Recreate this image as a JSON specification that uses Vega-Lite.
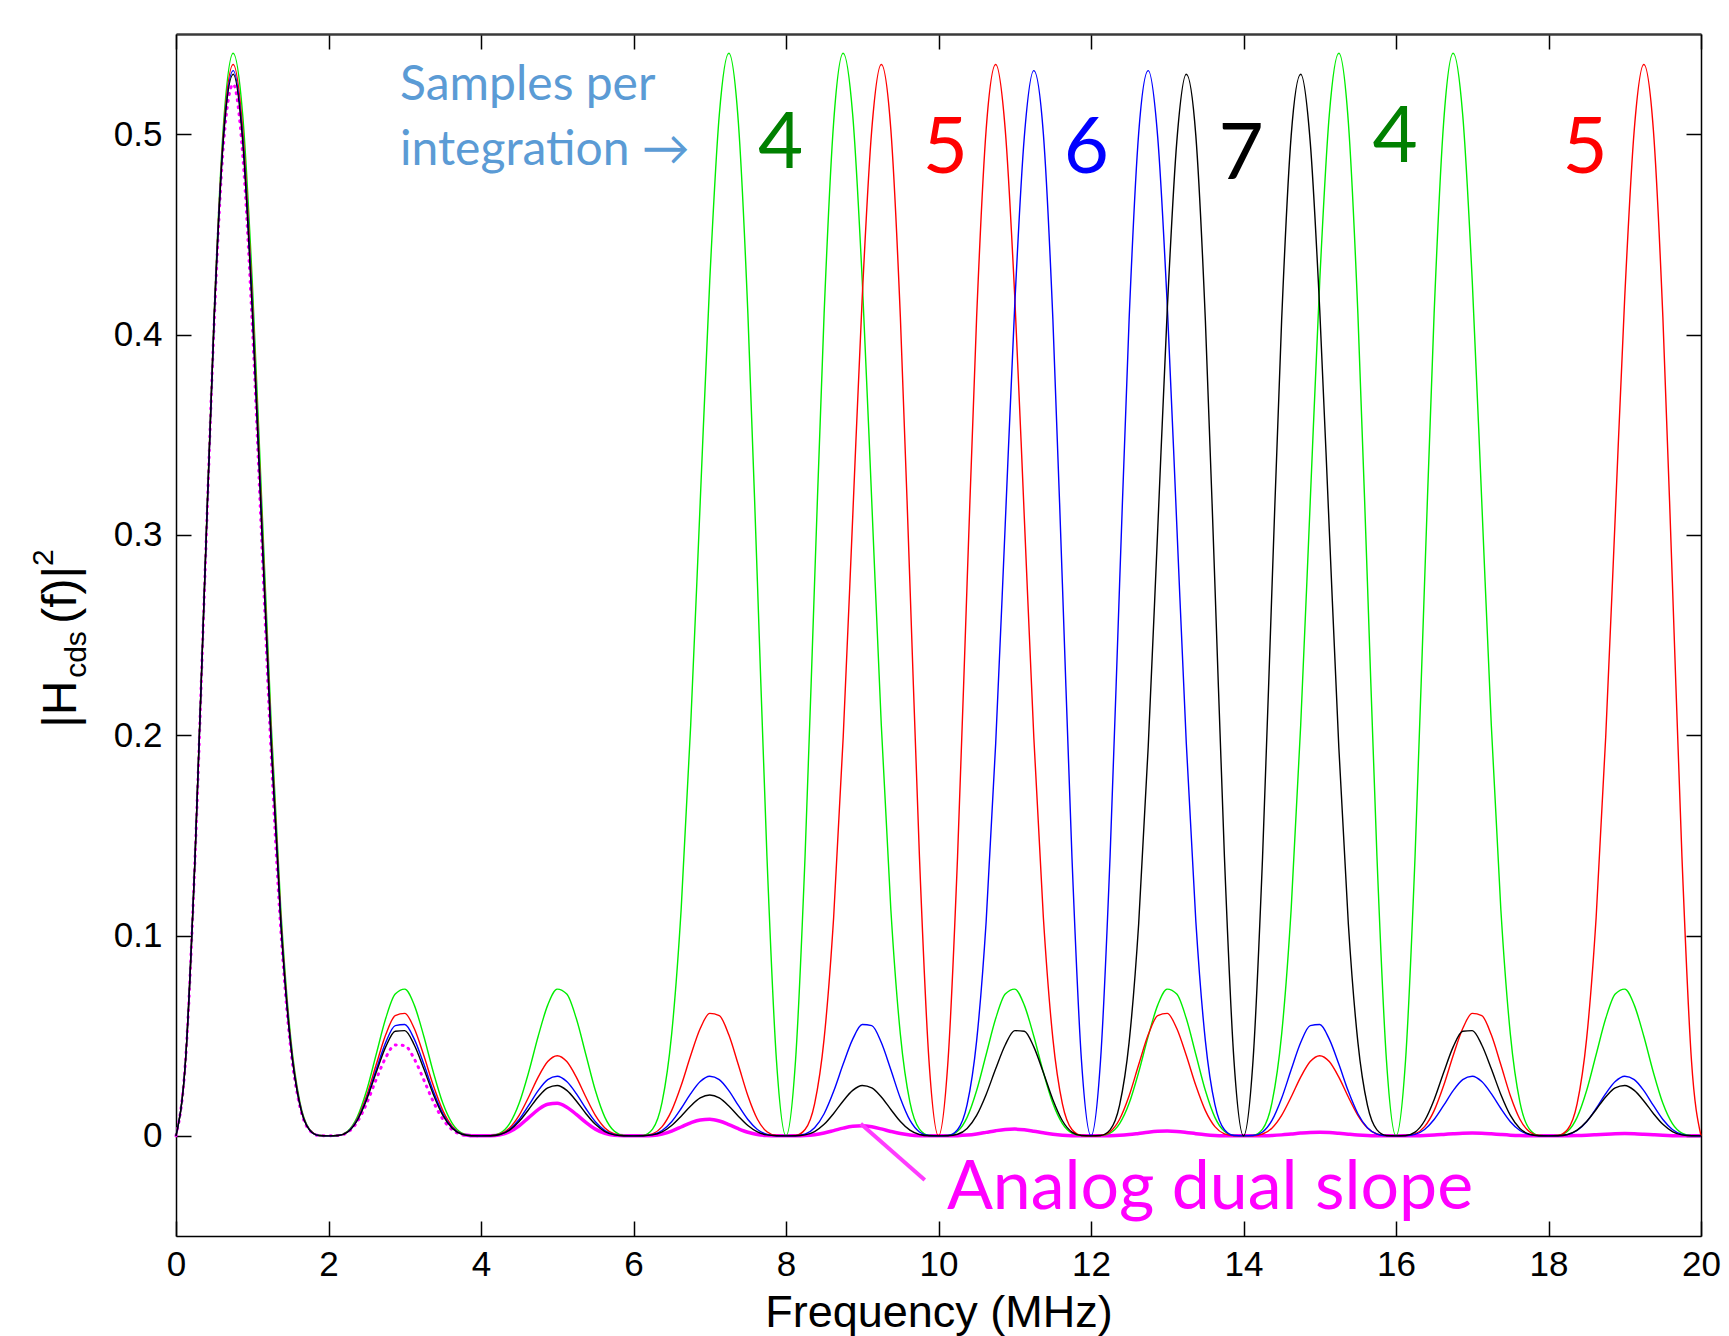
{
"$schema": "https://vega.github.io/schema/vega-lite/v6.json",
"width": 1525,
"height": 1202,
"autosize": {"type": "none"},
"padding": {"left": 176, "top": 34, "right": 28, "bottom": 100},
"background": "white",
"config": {"view": {"stroke": null}, "font": "Liberation Sans"},
"resolve": {"scale": {"color": "independent"}, "axis": {"x": "independent", "y": "independent"}},
"datasets": {
"curves": [
{"f":0,"N4":0,"N5":0,"N6":0,"N7":0,"Analog":0},
{"f":0.125,"N4":0.0376,"N5":0.03759,"N6":0.03759,"N7":0.03758,"Analog":0.03757},
{"f":0.25,"N4":0.13952,"N5":0.13936,"N6":0.13927,"N7":0.13922,"Analog":0.13907},
{"f":0.375,"N4":0.27657,"N5":0.27584,"N6":0.27545,"N7":0.27522,"Analog":0.27457},
{"f":0.5,"N4":0.41054,"N5":0.40864,"N6":0.40761,"N7":0.40699,"Analog":0.40529},
{"f":0.625,"N4":0.50597,"N5":0.50231,"N6":0.50034,"N7":0.49915,"Analog":0.49589},
{"f":0.75,"N4":0.54037,"N5":0.53475,"N6":0.53173,"N7":0.52991,"Analog":0.52493},
{"f":0.875,"N4":0.50957,"N5":0.50235,"N6":0.49848,"N7":0.49617,"Analog":0.48982},
{"f":1,"N4":0.42678,"N5":0.41889,"N6":0.41467,"N7":0.41216,"Analog":0.40529},
{"f":1.125,"N4":0.31637,"N5":0.30897,"N6":0.30503,"N7":0.30269,"Analog":0.29631},
{"f":1.25,"N4":0.20491,"N5":0.199,"N6":0.19587,"N7":0.19401,"Analog":0.18897},
{"f":1.375,"N4":0.11302,"N5":0.10907,"N6":0.107,"N7":0.10577,"Analog":0.10246},
{"f":1.5,"N4":0.05062,"N5":0.04852,"N6":0.04742,"N7":0.04677,"Analog":0.04503},
{"f":1.625,"N4":0.01678,"N5":0.01596,"N6":0.01554,"N7":0.01529,"Analog":0.01462},
{"f":1.75,"N4":0.00333,"N5":0.00314,"N6":0.00305,"N7":0.00299,"Analog":0.00284},
{"f":1.875,"N4":0.0002,"N5":0.00019,"N6":0.00018,"N7":0.00018,"Analog":0.00017},
{"f":2,"N4":0,"N5":0,"N6":0,"N7":0,"Analog":0},
{"f":2.125,"N4":0.00016,"N5":0.00015,"N6":0.00014,"N7":0.00014,"Analog":0.00013},
{"f":2.25,"N4":0.00224,"N5":0.00203,"N6":0.00193,"N7":0.00187,"Analog":0.00172},
{"f":2.375,"N4":0.00923,"N5":0.00827,"N6":0.0078,"N7":0.00753,"Analog":0.00685},
{"f":2.5,"N4":0.0226,"N5":0.02,"N6":0.01874,"N7":0.01803,"Analog":0.01621},
{"f":2.625,"N4":0.0406,"N5":0.03546,"N6":0.03299,"N7":0.0316,"Analog":0.02811},
{"f":2.75,"N4":0.05854,"N5":0.0504,"N6":0.04655,"N7":0.0444,"Analog":0.03904},
{"f":2.875,"N4":0.07077,"N5":0.06002,"N6":0.05501,"N7":0.05223,"Analog":0.04537},
{"f":3,"N4":0.07322,"N5":0.06112,"N6":0.05556,"N7":0.0525,"Analog":0.04503},
{"f":3.125,"N4":0.06524,"N5":0.05354,"N6":0.04825,"N7":0.04537,"Analog":0.0384},
{"f":3.25,"N4":0.04972,"N5":0.04009,"N6":0.0358,"N7":0.03349,"Analog":0.02795},
{"f":3.375,"N4":0.03175,"N5":0.02511,"N6":0.02222,"N7":0.02067,"Analog":0.01701},
{"f":3.5,"N4":0.01624,"N5":0.0126,"N6":0.01103,"N7":0.0102,"Analog":0.00827},
{"f":3.625,"N4":0.00609,"N5":0.00462,"N6":0.00401,"N7":0.00368,"Analog":0.00294},
{"f":3.75,"N4":0.00135,"N5":0.00101,"N6":0.00086,"N7":0.00079,"Analog":0.00062},
{"f":3.875,"N4":0.00009,"N5":0.00007,"N6":0.00006,"N7":0.00005,"Analog":0.00004},
{"f":4,"N4":0,"N5":0,"N6":0,"N7":0,"Analog":0},
{"f":4.125,"N4":0.00009,"N5":0.00006,"N6":0.00005,"N7":0.00005,"Analog":0.00003},
{"f":4.25,"N4":0.00135,"N5":0.00091,"N6":0.00074,"N7":0.00066,"Analog":0.00048},
{"f":4.375,"N4":0.00609,"N5":0.00396,"N6":0.00319,"N7":0.00281,"Analog":0.00202},
{"f":4.5,"N4":0.01624,"N5":0.01025,"N6":0.00814,"N7":0.00712,"Analog":0.005},
{"f":4.625,"N4":0.03175,"N5":0.01939,"N6":0.01516,"N7":0.01315,"Analog":0.00906},
{"f":4.75,"N4":0.04972,"N5":0.02932,"N6":0.02257,"N7":0.01941,"Analog":0.01309},
{"f":4.875,"N4":0.06524,"N5":0.03707,"N6":0.02807,"N7":0.02392,"Analog":0.01578},
{"f":5,"N4":0.07322,"N5":0.04,"N6":0.02977,"N7":0.02514,"Analog":0.01621},
{"f":5.125,"N4":0.07077,"N5":0.03707,"N6":0.0271,"N7":0.02267,"Analog":0.01428},
{"f":5.25,"N4":0.05854,"N5":0.02932,"N6":0.02104,"N7":0.01742,"Analog":0.01071},
{"f":5.375,"N4":0.0406,"N5":0.01939,"N6":0.01364,"N7":0.01118,"Analog":0.0067},
{"f":5.5,"N4":0.0226,"N5":0.01025,"N6":0.00706,"N7":0.00573,"Analog":0.00335},
{"f":5.625,"N4":0.00923,"N5":0.00396,"N6":0.00267,"N7":0.00214,"Analog":0.00122},
{"f":5.75,"N4":0.00224,"N5":0.00091,"N6":0.0006,"N7":0.00047,"Analog":0.00026},
{"f":5.875,"N4":0.00016,"N5":0.00006,"N6":0.00004,"N7":0.00003,"Analog":0.00002},
{"f":6,"N4":0,"N5":0,"N6":0,"N7":0,"Analog":0},
{"f":6.125,"N4":0.0002,"N5":0.00007,"N6":0.00004,"N7":0.00003,"Analog":0.00002},
{"f":6.25,"N4":0.00333,"N5":0.00101,"N6":0.0006,"N7":0.00045,"Analog":0.00022},
{"f":6.375,"N4":0.01678,"N5":0.00462,"N6":0.00267,"N7":0.00198,"Analog":0.00095},
{"f":6.5,"N4":0.05062,"N5":0.0126,"N6":0.00706,"N7":0.00517,"Analog":0.0024},
{"f":6.625,"N4":0.11302,"N5":0.02511,"N6":0.01364,"N7":0.00982,"Analog":0.00441},
{"f":6.75,"N4":0.20491,"N5":0.04009,"N6":0.02104,"N7":0.01492,"Analog":0.00648},
{"f":6.875,"N4":0.31637,"N5":0.05354,"N6":0.0271,"N7":0.0189,"Analog":0.00793},
{"f":7,"N4":0.42678,"N5":0.06112,"N6":0.02977,"N7":0.02041,"Analog":0.00827},
{"f":7.125,"N4":0.50957,"N5":0.06002,"N6":0.02807,"N7":0.0189,"Analog":0.00739},
{"f":7.25,"N4":0.54037,"N5":0.0504,"N6":0.02257,"N7":0.01492,"Analog":0.00562},
{"f":7.375,"N4":0.50597,"N5":0.03546,"N6":0.01516,"N7":0.00982,"Analog":0.00356},
{"f":7.5,"N4":0.41054,"N5":0.02,"N6":0.00814,"N7":0.00517,"Analog":0.0018},
{"f":7.625,"N4":0.27657,"N5":0.00827,"N6":0.00319,"N7":0.00198,"Analog":0.00066},
{"f":7.75,"N4":0.13952,"N5":0.00203,"N6":0.00074,"N7":0.00045,"Analog":0.00015},
{"f":7.875,"N4":0.0376,"N5":0.00015,"N6":0.00005,"N7":0.00003,"Analog":0.00001},
{"f":8,"N4":0,"N5":0,"N6":0,"N7":0,"Analog":0},
{"f":8.125,"N4":0.0376,"N5":0.00019,"N6":0.00006,"N7":0.00003,"Analog":0.00001},
{"f":8.25,"N4":0.13952,"N5":0.00314,"N6":0.00086,"N7":0.00047,"Analog":0.00013},
{"f":8.375,"N4":0.27657,"N5":0.01596,"N6":0.00401,"N7":0.00214,"Analog":0.00055},
{"f":8.5,"N4":0.41054,"N5":0.04852,"N6":0.01103,"N7":0.00573,"Analog":0.0014},
{"f":8.625,"N4":0.50597,"N5":0.10907,"N6":0.02222,"N7":0.01118,"Analog":0.0026},
{"f":8.75,"N4":0.54037,"N5":0.199,"N6":0.0358,"N7":0.01742,"Analog":0.00386},
{"f":8.875,"N4":0.50957,"N5":0.30897,"N6":0.04825,"N7":0.02267,"Analog":0.00476},
{"f":9,"N4":0.42678,"N5":0.41889,"N6":0.05556,"N7":0.02514,"Analog":0.005},
{"f":9.125,"N4":0.31637,"N5":0.50235,"N6":0.05501,"N7":0.02392,"Analog":0.0045},
{"f":9.25,"N4":0.20491,"N5":0.53475,"N6":0.04655,"N7":0.01941,"Analog":0.00345},
{"f":9.375,"N4":0.11302,"N5":0.50231,"N6":0.03299,"N7":0.01315,"Analog":0.0022},
{"f":9.5,"N4":0.05062,"N5":0.40864,"N6":0.01874,"N7":0.00712,"Analog":0.00112},
{"f":9.625,"N4":0.01678,"N5":0.27584,"N6":0.0078,"N7":0.00281,"Analog":0.00042},
{"f":9.75,"N4":0.00333,"N5":0.13936,"N6":0.00193,"N7":0.00066,"Analog":0.00009},
{"f":9.875,"N4":0.0002,"N5":0.03759,"N6":0.00014,"N7":0.00005,"Analog":0.00001},
{"f":10,"N4":0,"N5":0,"N6":0,"N7":0,"Analog":0},
{"f":10.125,"N4":0.00016,"N5":0.03759,"N6":0.00018,"N7":0.00005,"Analog":0.00001},
{"f":10.25,"N4":0.00224,"N5":0.13936,"N6":0.00305,"N7":0.00079,"Analog":0.00008},
{"f":10.375,"N4":0.00923,"N5":0.27584,"N6":0.01554,"N7":0.00368,"Analog":0.00036},
{"f":10.5,"N4":0.0226,"N5":0.40864,"N6":0.04742,"N7":0.0102,"Analog":0.00092},
{"f":10.625,"N4":0.0406,"N5":0.50231,"N6":0.107,"N7":0.02067,"Analog":0.00172},
{"f":10.75,"N4":0.05854,"N5":0.53475,"N6":0.19587,"N7":0.03349,"Analog":0.00256},
{"f":10.875,"N4":0.07077,"N5":0.50235,"N6":0.30503,"N7":0.04537,"Analog":0.00317},
{"f":11,"N4":0.07322,"N5":0.41889,"N6":0.41467,"N7":0.0525,"Analog":0.00335},
{"f":11.125,"N4":0.06524,"N5":0.30897,"N6":0.49848,"N7":0.05223,"Analog":0.00303},
{"f":11.25,"N4":0.04972,"N5":0.199,"N6":0.53173,"N7":0.0444,"Analog":0.00233},
{"f":11.375,"N4":0.03175,"N5":0.10907,"N6":0.50034,"N7":0.0316,"Analog":0.0015},
{"f":11.5,"N4":0.01624,"N5":0.04852,"N6":0.40761,"N7":0.01803,"Analog":0.00077},
{"f":11.625,"N4":0.00609,"N5":0.01596,"N6":0.27545,"N7":0.00753,"Analog":0.00029},
{"f":11.75,"N4":0.00135,"N5":0.00314,"N6":0.13927,"N7":0.00187,"Analog":0.00006},
{"f":11.875,"N4":0.00009,"N5":0.00019,"N6":0.03759,"N7":0.00014,"Analog":0},
{"f":12,"N4":0,"N5":0,"N6":0,"N7":0,"Analog":0},
{"f":12.125,"N4":0.00009,"N5":0.00015,"N6":0.03759,"N7":0.00018,"Analog":0},
{"f":12.25,"N4":0.00135,"N5":0.00203,"N6":0.13927,"N7":0.00299,"Analog":0.00006},
{"f":12.375,"N4":0.00609,"N5":0.00827,"N6":0.27545,"N7":0.01529,"Analog":0.00025},
{"f":12.5,"N4":0.01624,"N5":0.02,"N6":0.40761,"N7":0.04677,"Analog":0.00065},
{"f":12.625,"N4":0.03175,"N5":0.03546,"N6":0.50034,"N7":0.10577,"Analog":0.00122},
{"f":12.75,"N4":0.04972,"N5":0.0504,"N6":0.53173,"N7":0.19401,"Analog":0.00182},
{"f":12.875,"N4":0.06524,"N5":0.06002,"N6":0.49848,"N7":0.30269,"Analog":0.00226},
{"f":13,"N4":0.07322,"N5":0.06112,"N6":0.41467,"N7":0.41216,"Analog":0.0024},
{"f":13.125,"N4":0.07077,"N5":0.05354,"N6":0.30503,"N7":0.49617,"Analog":0.00218},
{"f":13.25,"N4":0.05854,"N5":0.04009,"N6":0.19587,"N7":0.52991,"Analog":0.00168},
{"f":13.375,"N4":0.0406,"N5":0.02511,"N6":0.107,"N7":0.49915,"Analog":0.00108},
{"f":13.5,"N4":0.0226,"N5":0.0126,"N6":0.04742,"N7":0.40699,"Analog":0.00056},
{"f":13.625,"N4":0.00923,"N5":0.00462,"N6":0.01554,"N7":0.27522,"Analog":0.00021},
{"f":13.75,"N4":0.00224,"N5":0.00101,"N6":0.00305,"N7":0.13922,"Analog":0.00005},
{"f":13.875,"N4":0.00016,"N5":0.00007,"N6":0.00018,"N7":0.03758,"Analog":0},
{"f":14,"N4":0,"N5":0,"N6":0,"N7":0,"Analog":0},
{"f":14.125,"N4":0.0002,"N5":0.00006,"N6":0.00014,"N7":0.03758,"Analog":0},
{"f":14.25,"N4":0.00333,"N5":0.00091,"N6":0.00193,"N7":0.13922,"Analog":0.00004},
{"f":14.375,"N4":0.01678,"N5":0.00396,"N6":0.0078,"N7":0.27522,"Analog":0.00019},
{"f":14.5,"N4":0.05062,"N5":0.01025,"N6":0.01874,"N7":0.40699,"Analog":0.00048},
{"f":14.625,"N4":0.11302,"N5":0.01939,"N6":0.03299,"N7":0.49915,"Analog":0.00091},
{"f":14.75,"N4":0.20491,"N5":0.02932,"N6":0.04655,"N7":0.52991,"Analog":0.00136},
{"f":14.875,"N4":0.31637,"N5":0.03707,"N6":0.05501,"N7":0.49617,"Analog":0.0017},
{"f":15,"N4":0.42678,"N5":0.04,"N6":0.05556,"N7":0.41216,"Analog":0.0018},
{"f":15.125,"N4":0.50957,"N5":0.03707,"N6":0.04825,"N7":0.30269,"Analog":0.00164},
{"f":15.25,"N4":0.54037,"N5":0.02932,"N6":0.0358,"N7":0.19401,"Analog":0.00127},
{"f":15.375,"N4":0.50597,"N5":0.01939,"N6":0.02222,"N7":0.10577,"Analog":0.00082},
{"f":15.5,"N4":0.41054,"N5":0.01025,"N6":0.01103,"N7":0.04677,"Analog":0.00042},
{"f":15.625,"N4":0.27657,"N5":0.00396,"N6":0.00401,"N7":0.01529,"Analog":0.00016},
{"f":15.75,"N4":0.13952,"N5":0.00091,"N6":0.00086,"N7":0.00299,"Analog":0.00004},
{"f":15.875,"N4":0.0376,"N5":0.00006,"N6":0.00006,"N7":0.00018,"Analog":0},
{"f":16,"N4":0,"N5":0,"N6":0,"N7":0,"Analog":0},
{"f":16.125,"N4":0.0376,"N5":0.00007,"N6":0.00005,"N7":0.00014,"Analog":0},
{"f":16.25,"N4":0.13952,"N5":0.00101,"N6":0.00074,"N7":0.00187,"Analog":0.00003},
{"f":16.375,"N4":0.27657,"N5":0.00462,"N6":0.00319,"N7":0.00753,"Analog":0.00014},
{"f":16.5,"N4":0.41054,"N5":0.0126,"N6":0.00814,"N7":0.01803,"Analog":0.00037},
{"f":16.625,"N4":0.50597,"N5":0.02511,"N6":0.01516,"N7":0.0316,"Analog":0.0007},
{"f":16.75,"N4":0.54037,"N5":0.04009,"N6":0.02257,"N7":0.0444,"Analog":0.00105},
{"f":16.875,"N4":0.50957,"N5":0.05354,"N6":0.02807,"N7":0.05223,"Analog":0.00132},
{"f":17,"N4":0.42678,"N5":0.06112,"N6":0.02977,"N7":0.0525,"Analog":0.0014},
{"f":17.125,"N4":0.31637,"N5":0.06002,"N6":0.0271,"N7":0.04537,"Analog":0.00128},
{"f":17.25,"N4":0.20491,"N5":0.0504,"N6":0.02104,"N7":0.03349,"Analog":0.00099},
{"f":17.375,"N4":0.11302,"N5":0.03546,"N6":0.01364,"N7":0.02067,"Analog":0.00064},
{"f":17.5,"N4":0.05062,"N5":0.02,"N6":0.00706,"N7":0.0102,"Analog":0.00033},
{"f":17.625,"N4":0.01678,"N5":0.00827,"N6":0.00267,"N7":0.00368,"Analog":0.00012},
{"f":17.75,"N4":0.00333,"N5":0.00203,"N6":0.0006,"N7":0.00079,"Analog":0.00003},
{"f":17.875,"N4":0.0002,"N5":0.00015,"N6":0.00004,"N7":0.00005,"Analog":0},
{"f":18,"N4":0,"N5":0,"N6":0,"N7":0,"Analog":0},
{"f":18.125,"N4":0.00016,"N5":0.00019,"N6":0.00004,"N7":0.00005,"Analog":0},
{"f":18.25,"N4":0.00224,"N5":0.00314,"N6":0.0006,"N7":0.00066,"Analog":0.00003},
{"f":18.375,"N4":0.00923,"N5":0.01596,"N6":0.00267,"N7":0.00281,"Analog":0.00011},
{"f":18.5,"N4":0.0226,"N5":0.04852,"N6":0.00706,"N7":0.00712,"Analog":0.0003},
{"f":18.625,"N4":0.0406,"N5":0.10907,"N6":0.01364,"N7":0.01315,"Analog":0.00056},
{"f":18.75,"N4":0.05854,"N5":0.199,"N6":0.02104,"N7":0.01941,"Analog":0.00084},
{"f":18.875,"N4":0.07077,"N5":0.30897,"N6":0.0271,"N7":0.02392,"Analog":0.00105},
{"f":19,"N4":0.07322,"N5":0.41889,"N6":0.02977,"N7":0.02514,"Analog":0.00112},
{"f":19.125,"N4":0.06524,"N5":0.50235,"N6":0.02807,"N7":0.02267,"Analog":0.00103},
{"f":19.25,"N4":0.04972,"N5":0.53475,"N6":0.02257,"N7":0.01742,"Analog":0.0008},
{"f":19.375,"N4":0.03175,"N5":0.50231,"N6":0.01516,"N7":0.01118,"Analog":0.00052},
{"f":19.5,"N4":0.01624,"N5":0.40864,"N6":0.00814,"N7":0.00573,"Analog":0.00027},
{"f":19.625,"N4":0.00609,"N5":0.27584,"N6":0.00319,"N7":0.00214,"Analog":0.0001},
{"f":19.75,"N4":0.00135,"N5":0.13936,"N6":0.00074,"N7":0.00047,"Analog":0.00002},
{"f":19.875,"N4":0.00009,"N5":0.03759,"N6":0.00005,"N7":0.00003,"Analog":0},
{"f":20,"N4":0,"N5":0,"N6":0,"N7":0,"Analog":0}
]
},
"layer": [
{
"data": {"name": "curves"},
"transform": [{"filter": "datum.f <= 4"}],
"mark": {"type": "line", "color": "#ff00ff", "strokeWidth": 3, "strokeDash": [1, 6], "strokeCap": "round", "interpolate": "monotone"},
"encoding": {
"x": {"field": "f", "type": "quantitative", "scale": {"domain": [0, 20], "nice": false, "zero": false},
"axis": {"orient": "top", "values": [0,2,4,6,8,10,12,14,16,18,20], "labels": false, "title": null, "grid": false, "tickSize": -15, "tickColor": "#000", "tickWidth": 1.5, "domainColor": "#3a3a3a", "domainWidth": 2.5}},
"y": {"field": "Analog", "type": "quantitative", "scale": {"domain": [-0.05, 0.55], "nice": false, "zero": false},
"axis": {"orient": "right", "values": [0,0.1,0.2,0.3,0.4,0.5], "labels": false, "title": null, "grid": false, "tickSize": -15, "tickColor": "#000", "tickWidth": 1.5, "domainColor": "#000", "domainWidth": 1.5}}
}
},
{
"data": {"name": "curves"},
"transform": [{"filter": "datum.f >= 3.75"}],
"mark": {"type": "line", "color": "#ff00ff", "strokeWidth": 3.5, "interpolate": "monotone"},
"encoding": {
"x": {"field": "f", "type": "quantitative", "scale": {"domain": [0, 20], "nice": false, "zero": false}, "axis": null},
"y": {"field": "Analog", "type": "quantitative", "scale": {"domain": [-0.05, 0.55], "nice": false, "zero": false}, "axis": null}
}
},
{
"data": {"name": "curves"},
"transform": [{"fold": ["N4", "N5", "N6", "N7"], "as": ["series", "H2"]}],
"mark": {"type": "line", "strokeWidth": 1.4, "interpolate": "monotone"},
"encoding": {
"x": {"field": "f", "type": "quantitative", "scale": {"domain": [0, 20], "nice": false, "zero": false},
"axis": {"orient": "bottom", "values": [0,2,4,6,8,10,12,14,16,18,20], "format": "d", "labelFlush": false, "labelOverlap": false, "labelFont": "Liberation Sans", "labelFontSize": 35, "labelColor": "#000", "labelPadding": 26, "grid": false, "tickSize": -15, "tickColor": "#000", "tickWidth": 1.5, "domainColor": "#000", "domainWidth": 1.5,
"title": "Frequency (MHz)", "titleFont": "Liberation Sans", "titleFontSize": 45, "titleFontWeight": "normal", "titleColor": "#000", "titleBaseline": "alphabetic", "titleY": 90}},
"y": {"field": "H2", "type": "quantitative", "scale": {"domain": [-0.05, 0.55], "nice": false, "zero": false},
"axis": {"orient": "left", "values": [0,0.1,0.2,0.3,0.4,0.5], "format": "~g", "labelFlush": false, "labelOverlap": false, "labelFont": "Liberation Sans", "labelFontSize": 35, "labelColor": "#000", "labelPadding": 29, "grid": false, "tickSize": -15, "tickColor": "#000", "tickWidth": 1.5, "domainColor": "#000", "domainWidth": 1.5, "title": null}},
"color": {"field": "series", "type": "nominal", "scale": {"domain": ["N4", "N5", "N6", "N7"], "range": ["#00ee00", "#ff0000", "#0000ff", "#000000"]}, "legend": null}
}
},
{
"data": {"values": [{"f": 8.98, "y": 0.006, "f2": 9.82, "y2": -0.022}]},
"mark": {"type": "rule", "color": "#ff3cff", "strokeWidth": 4},
"encoding": {
"x": {"field": "f", "type": "quantitative", "scale": {"domain": [0, 20], "nice": false, "zero": false}, "axis": null},
"y": {"field": "y", "type": "quantitative", "scale": {"domain": [-0.05, 0.55], "nice": false, "zero": false}, "axis": null},
"x2": {"field": "f2"},
"y2": {"field": "y2"}
}
},
{
"data": {"values": [{"label": "Samples per", "f": 2.938, "y": 0.5171}, {"label": "integration →", "f": 2.938, "y": 0.4847}]},
"mark": {"type": "text", "font": "Lato", "fontSize": 48, "color": "#5b9bd5", "align": "left", "baseline": "alphabetic"},
"encoding": {
"x": {"field": "f", "type": "quantitative", "scale": {"domain": [0, 20], "nice": false, "zero": false}, "axis": null},
"y": {"field": "y", "type": "quantitative", "scale": {"domain": [-0.05, 0.55], "nice": false, "zero": false}, "axis": null},
"text": {"field": "label"}
}
},
{
"data": {"values": [
{"n": "4", "f": 7.93, "y": 0.4832},
{"n": "5", "f": 10.09, "y": 0.4807},
{"n": "6", "f": 11.94, "y": 0.4807},
{"n": "7", "f": 13.97, "y": 0.4777},
{"n": "4", "f": 15.99, "y": 0.4862},
{"n": "5", "f": 18.48, "y": 0.4807}
]},
"mark": {"type": "text", "font": "Lato", "fontSize": 78, "align": "center", "baseline": "alphabetic"},
"encoding": {
"x": {"field": "f", "type": "quantitative", "scale": {"domain": [0, 20], "nice": false, "zero": false}, "axis": null},
"y": {"field": "y", "type": "quantitative", "scale": {"domain": [-0.05, 0.55], "nice": false, "zero": false}, "axis": null},
"text": {"field": "n"},
"color": {"field": "n", "type": "nominal", "scale": {"domain": ["4", "5", "6", "7"], "range": ["#008000", "#ff0000", "#0000ff", "#000000"]}, "legend": null}
}
},
{
"data": {"values": [{"label": "Analog dual slope", "f": 10.11, "y": -0.0364}]},
"mark": {"type": "text", "font": "Lato", "fontSize": 68, "color": "#ff00ff", "align": "left", "baseline": "alphabetic"},
"encoding": {
"x": {"field": "f", "type": "quantitative", "scale": {"domain": [0, 20], "nice": false, "zero": false}, "axis": null},
"y": {"field": "y", "type": "quantitative", "scale": {"domain": [-0.05, 0.55], "nice": false, "zero": false}, "axis": null},
"text": {"field": "label"}
}
},
{
"data": {"values": [{"part": "|H", "f": -1.3115, "y": 0.2037}, {"part": "(f)|", "f": -1.3115, "y": 0.2556}]},
"mark": {"type": "text", "font": "Liberation Sans", "fontSize": 48, "color": "#000", "angle": 270, "align": "left", "baseline": "alphabetic"},
"encoding": {
"x": {"field": "f", "type": "quantitative", "scale": {"domain": [0, 20], "nice": false, "zero": false}, "axis": null},
"y": {"field": "y", "type": "quantitative", "scale": {"domain": [-0.05, 0.55], "nice": false, "zero": false}, "axis": null},
"text": {"field": "part"}
}
},
{
"data": {"values": [{"part": "cds", "f": -1.1803, "y": 0.2286}, {"part": "2", "f": -1.6131, "y": 0.2845}]},
"mark": {"type": "text", "font": "Liberation Sans", "fontSize": 30, "color": "#000", "angle": 270, "align": "left", "baseline": "alphabetic"},
"encoding": {
"x": {"field": "f", "type": "quantitative", "scale": {"domain": [0, 20], "nice": false, "zero": false}, "axis": null},
"y": {"field": "y", "type": "quantitative", "scale": {"domain": [-0.05, 0.55], "nice": false, "zero": false}, "axis": null},
"text": {"field": "part"}
}
}
]
}
